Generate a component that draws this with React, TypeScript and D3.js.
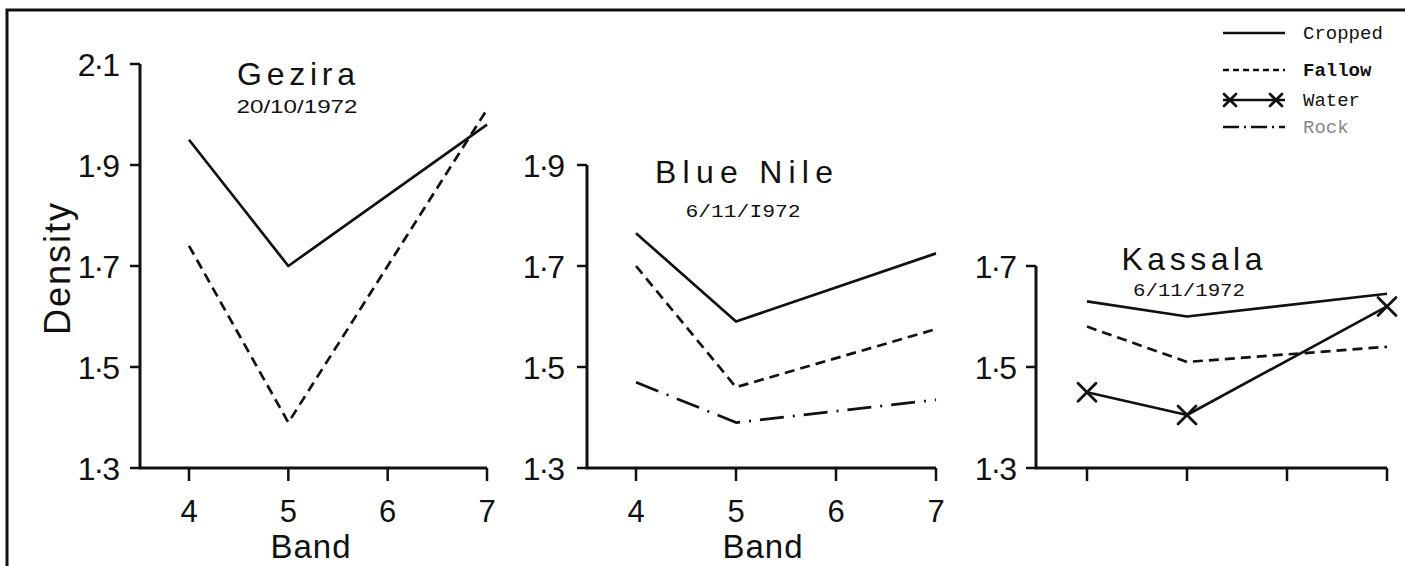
import React from "react";
import * as d3 from "d3";

// ---------- data ----------
const bands = [4, 5, 6, 7];
const measuredBands = [4, 5, 7];

const gezYTicks = [1.3, 1.5, 1.7, 1.9, 2.1];
const nileYTicks = [1.3, 1.5, 1.7, 1.9];
const kasYTicks = [1.3, 1.5, 1.7];

const gezCropped = [1.95, 1.7, 1.98];
const gezFallow = [1.74, 1.39, 2.01];

const nileCropped = [1.765, 1.59, 1.725];
const nileFallow = [1.7, 1.46, 1.575];
const nileRock = [1.47, 1.39, 1.435];

const kasCropped = [1.63, 1.6, 1.645];
const kasFallow = [1.58, 1.51, 1.54];
const kasWater = [1.45, 1.405, 1.62];

const legendLabels = ["Cropped", "Fallow", "Water", "Rock"];
const legendKinds: Kind[] = ["cropped", "fallow", "water", "rock"];

type Kind = "cropped" | "fallow" | "water" | "rock";

// ---------- styling ----------
const INK = "#111";
const SANS = "'Liberation Sans', Arial, sans-serif";
const MONO = "'Liberation Mono', 'Courier New', monospace";
const PX_PER_UNIT = 505;
const BASE_Y = 468;

const dashFor: Record<Kind, string | undefined> = {
  cropped: undefined,
  fallow: "10,6",
  water: undefined,
  rock: "24,9,2,9",
};

const fmt = (v: number) => v.toFixed(1).replace(".", "\u00b7");

function XMark({ x, y, r = 9, w = 2.6 }: { x: number; y: number; r?: number; w?: number }) {
  return (
    <g stroke={INK} strokeWidth={w} strokeLinecap="round">
      <line x1={x - r} y1={y - r} x2={x + r} y2={y + r} />
      <line x1={x - r} y1={y + r} x2={x + r} y2={y - r} />
    </g>
  );
}

type Series = { kind: Kind; values: number[] };

type PanelProps = {
  axisLeft: number;
  xRange: [number, number];
  yTicks: number[];
  series: Series[];
  title: string;
  titleX: number;
  titleBase: number;
  titleLen: number;
  date: string;
  dateFont: string;
  dateX: number;
  dateBase: number;
  dateLen: number;
  showXLabels: boolean;
  bandX?: number;
  labelRight: number;
};

function Panel(p: PanelProps) {
  const yMax = d3.max(p.yTicks) as number;
  const y = d3
    .scaleLinear()
    .domain([1.3, yMax])
    .range([BASE_Y, BASE_Y - (yMax - 1.3) * PX_PER_UNIT]);
  const x = d3.scaleLinear().domain([4, 7]).range(p.xRange);
  const line = d3
    .line<number>()
    .x((_, i) => x(measuredBands[i]))
    .y((d) => y(d));

  const yTop = y(yMax);
  return (
    <g>
      {/* axes */}
      <path
        d={`M${p.axisLeft},${yTop} V${BASE_Y} H${p.xRange[1]}`}
        fill="none"
        stroke={INK}
        strokeWidth={3}
      />
      {p.yTicks.map((t) => (
        <g key={t}>
          <line x1={p.axisLeft - 10} x2={p.axisLeft} y1={y(t)} y2={y(t)} stroke={INK} strokeWidth={2.5} />
          <text
            x={p.labelRight}
            y={y(t) + 12}
            textAnchor="end"
            fontFamily={SANS}
            fontSize={32}
            letterSpacing={-2}
            fill={INK}
          >
            {fmt(t)}
          </text>
        </g>
      ))}
      {bands.map((b) => (
        <g key={b}>
          <line x1={x(b)} x2={x(b)} y1={BASE_Y} y2={BASE_Y + 13} stroke={INK} strokeWidth={2.5} />
          {p.showXLabels && (
            <text x={x(b)} y={522} textAnchor="middle" fontFamily={SANS} fontSize={31} fill={INK}>
              {b}
            </text>
          )}
        </g>
      ))}
      {p.showXLabels && p.bandX !== undefined && (
        <text
          x={p.bandX}
          y={558}
          textAnchor="middle"
          fontFamily={SANS}
          fontSize={33}
          letterSpacing={1}
          fill={INK}
        >
          Band
        </text>
      )}

      {/* titles */}
      <text
        x={p.titleX - p.titleLen / 2}
        y={p.titleBase}
        fontFamily={SANS}
        fontSize={32}
        textLength={p.titleLen}
        lengthAdjust="spacing"
        fill={INK}
      >
        {p.title}
      </text>
      <text
        x={p.dateX - p.dateLen / 2}
        y={p.dateBase}
        fontFamily={p.dateFont}
        fontSize={18}
        textLength={p.dateLen}
        lengthAdjust="spacingAndGlyphs"
        fill={INK}
      >
        {p.date}
      </text>

      {/* series */}
      {p.series.map((s) => (
        <g key={s.kind}>
          <path
            d={line(s.values) || ""}
            fill="none"
            stroke={INK}
            strokeWidth={2.7}
            strokeDasharray={dashFor[s.kind]}
            strokeLinejoin="round"
          />
          {s.kind === "water" &&
            s.values.map((v, i) => <XMark key={i} x={x(measuredBands[i])} y={y(v)} r={9} w={2.8} />)}
        </g>
      ))}
    </g>
  );
}

export default function App() {
  const legendYs = [33, 70, 100, 127];
  return (
    <svg width={1405} height={566} style={{ display: "block", position: "absolute", left: 0, top: 0 }}>
      <rect width={1405} height={566} fill="#fff" />
      {/* frame */}
      <path d="M7,570 V10 H1405" fill="none" stroke={INK} strokeWidth={3} />

      {/* y label */}
      <text
        transform="translate(70,268) rotate(-90)"
        textAnchor="middle"
        fontFamily={SANS}
        fontSize={36}
        letterSpacing={2}
        fill={INK}
      >
        Density
      </text>

      <Panel
        axisLeft={140}
        xRange={[189, 487]}
        yTicks={gezYTicks}
        series={[
          { kind: "cropped", values: gezCropped },
          { kind: "fallow", values: gezFallow },
        ]}
        title="Gezira"
        titleX={296}
        titleBase={85}
        titleLen={118}
        date="20/10/1972"
        dateFont={SANS}
        dateX={297}
        dateBase={113}
        dateLen={121}
        showXLabels={true}
        bandX={311}
        labelRight={118}
      />
      <Panel
        axisLeft={587}
        xRange={[636, 936]}
        yTicks={nileYTicks}
        series={[
          { kind: "cropped", values: nileCropped },
          { kind: "fallow", values: nileFallow },
          { kind: "rock", values: nileRock },
        ]}
        title="Blue  Nile"
        titleX={744}
        titleBase={183}
        titleLen={178}
        date="6/11/I972"
        dateFont={MONO}
        dateX={743}
        dateBase={217}
        dateLen={115}
        showXLabels={true}
        bandX={763}
        labelRight={563}
      />
      <Panel
        axisLeft={1036}
        xRange={[1087, 1387]}
        yTicks={kasYTicks}
        series={[
          { kind: "cropped", values: kasCropped },
          { kind: "fallow", values: kasFallow },
          { kind: "water", values: kasWater },
        ]}
        title="Kassala"
        titleX={1192}
        titleBase={270}
        titleLen={141}
        date="6/11/1972"
        dateFont={MONO}
        dateX={1189}
        dateBase={296}
        dateLen={112}
        showXLabels={false}
        labelRight={1015}
      />

      {/* legend */}
      {legendLabels.map((lab, i) => {
        const kind = legendKinds[i];
        const yy = legendYs[i];
        return (
          <g key={lab}>
            <line
              x1={1223}
              x2={1285}
              y1={yy}
              y2={yy}
              stroke={INK}
              strokeWidth={2.6}
              strokeDasharray={kind === "fallow" ? "6,4" : kind === "rock" ? "16,5,2,5" : undefined}
            />
            {kind === "water" && (
              <>
                <XMark x={1230} y={yy} r={6} w={2.8} />
                <XMark x={1276} y={yy} r={6} w={2.8} />
              </>
            )}
            <text
              x={1303}
              y={yy + 6}
              fontFamily={MONO}
              fontSize={19}
              fontWeight={kind === "fallow" ? "bold" : "normal"}
              fill={kind === "rock" ? "#888" : INK}
            >
              {lab}
            </text>
          </g>
        );
      })}
    </svg>
  );
}
